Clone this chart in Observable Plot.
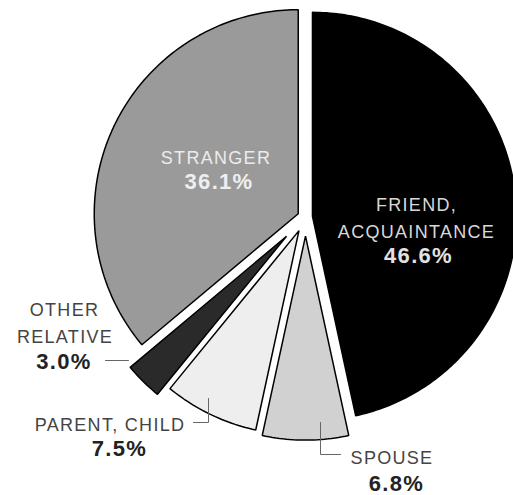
<!DOCTYPE html>
<html><head><meta charset="utf-8">
<script src="https://cdn.jsdelivr.net/npm/d3@7"></script>
<script src="https://cdn.jsdelivr.net/npm/@observablehq/plot@0.6"></script>
<style>
body{margin:0;background:#fff}
.pie text{letter-spacing:1.3px}
.pie text.pct{letter-spacing:2.5px}
</style>
</head><body><div id="chart"></div>
<script>
// ---- data ----
const categories = ["FRIEND, ACQUAINTANCE", "SPOUSE", "PARENT, CHILD", "OTHER RELATIVE", "STRANGER"];
const shares = [46.6, 6.8, 7.5, 3.0, 36.1];
const labelLines = [["FRIEND,", "ACQUAINTANCE"], ["SPOUSE"], ["PARENT, CHILD"], ["OTHER", "RELATIVE"], ["STRANGER"]];
const pctLabels = ["46.6%", "6.8%", "7.5%", "3.0%", "36.1%"];

// ---- style / layout ----
const fills = ["#000000", "#d1d1d1", "#eeeeee", "#2a2a2a", "#9a9a9a"];
const explodePx = [7, 19, 15, 27, 8];
const W = 513, H = 495, CX = 305, CY = 216.6, R = 204;
const toX = px => (px - CX) / R, toY = py => (CY - py) / R;

// label layout (center x, baseline y in px), colors
const labelLayout = [
  {lines: [[416, 210], [416, 237]], pct: [418, 262], color: "#d8d8d8", pctColor: "#e2e2e2"},
  {lines: [[391.5, 463]], pct: [396, 490], color: "#444", pctColor: "#222"},
  {lines: [[109.5, 430]], pct: [119, 455], color: "#444", pctColor: "#222"},
  {lines: [[64, 315], [64.5, 342]], pct: [63.5, 368], color: "#444", pctColor: "#222"},
  {lines: [[215.5, 163]], pct: [218.5, 188], color: "#ececec", pctColor: "#efefef"}
];
const leaders = [
  {cat: "OTHER RELATIVE", pts: [[105, 360], [128, 360]]},
  {cat: "PARENT, CHILD", pts: [[193, 422], [208, 422], [208, 398]]},
  {cat: "SPOUSE", pts: [[320, 422], [320, 454], [340, 454]]}
];

// ---- build geometry from data ----
const rows = categories.map((c, i) => ({cat: c, share: shares[i], i}));
const arcs = d3.pie().sort(null).value(d => d.share).startAngle(0).endAngle(2 * Math.PI)(rows);
const poly = [];
arcs.forEach(a => {
  const i = a.data.i;
  const mid = (a.startAngle + a.endAngle) / 2;
  const e = explodePx[i] / R;
  const ox = e * Math.sin(mid), oy = e * Math.cos(mid);
  poly.push({cat: a.data.cat, x: ox, y: oy});
  const n = Math.max(4, Math.ceil((a.endAngle - a.startAngle) / (Math.PI / 180)));
  for (let k = 0; k <= n; k++) {
    const t = a.startAngle + (a.endAngle - a.startAngle) * k / n;
    poly.push({cat: a.data.cat, x: ox + Math.sin(t), y: oy + Math.cos(t)});
  }
});

const fs = 18, pfs = 22;
const textRows = [];
labelLayout.forEach((L, i) => {
  labelLines[i].forEach((s, j) => {
    const [px, py] = L.lines[j];
    textRows.push({text: s, x: toX(px), y: toY(py - 0.32 * fs), color: L.color, pct: false});
  });
  const [px, py] = L.pct;
  textRows.push({text: pctLabels[i], x: toX(px), y: toY(py - 0.32 * pfs), color: L.pctColor, pct: true});
});
const leaderRows = leaders.flatMap(l => l.pts.map(([px, py]) => ({cat: l.cat, x: toX(px), y: toY(py)})));

const chart = Plot.plot({
  width: W, height: H,
  margin: 0,
  className: "pie",
  style: {fontFamily: "'Liberation Sans', Arial, Helvetica, sans-serif", background: "#fff"},
  x: {domain: [toX(0), toX(W)], axis: null},
  y: {domain: [toY(H), toY(0)], axis: null},
  color: {domain: categories, range: fills},
  marks: [
    Plot.line(poly, {x: "x", y: "y", z: "cat", fill: "cat", stroke: "#000", strokeWidth: 1.5, strokeLinejoin: "miter", curve: "linear-closed"}),
    Plot.line(leaderRows, {x: "x", y: "y", z: "cat", stroke: "#666", strokeWidth: 1}),
    Plot.text(textRows.filter(d => !d.pct), {x: "x", y: "y", text: "text", fill: d => d.color, fontSize: fs, fontWeight: "normal"}),
    Plot.text(textRows.filter(d => d.pct), {x: "x", y: "y", text: "text", fill: d => d.color, fontSize: pfs, fontWeight: "bold", className: "pct"})
  ]
});
document.getElementById("chart").appendChild(chart);
</script>
</body></html>
